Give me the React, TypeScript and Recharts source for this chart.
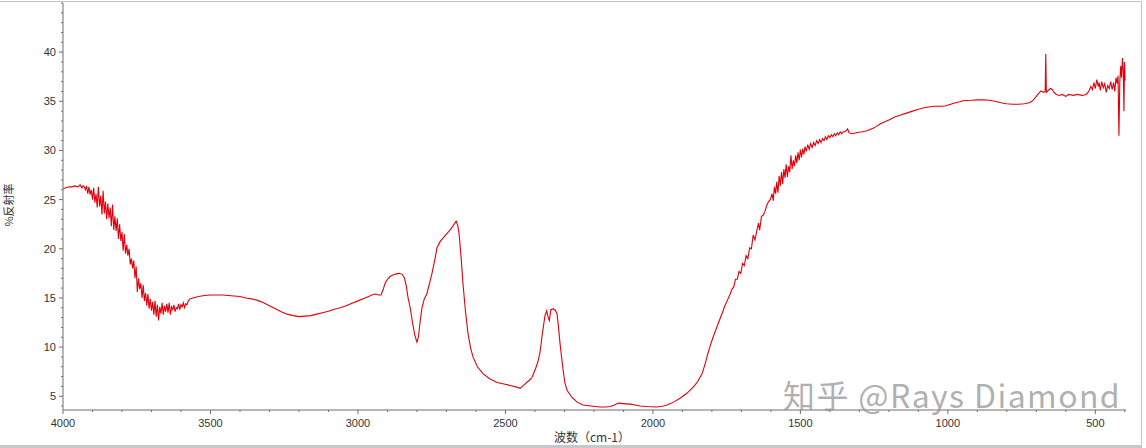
import { LineChart, Line, XAxis, YAxis } from "recharts"

// 波数 (cm-1), high to low
const waveNumbers = [
  4000, 3990, 3980, 3970, 3960, 3950, 3942, 3936, 3932, 3928,
  3924, 3920, 3916, 3912, 3908, 3904, 3900, 3896, 3892, 3888,
  3884, 3880, 3876, 3872, 3868, 3864, 3860, 3856, 3852, 3848,
  3844, 3840, 3836, 3832, 3828, 3824, 3820, 3816, 3812, 3808,
  3804, 3800, 3796, 3792, 3788, 3784, 3780, 3776, 3772, 3768,
  3764, 3760, 3756, 3752, 3748, 3744, 3740, 3736, 3732, 3728,
  3724, 3720, 3716, 3712, 3708, 3704, 3700, 3696, 3692, 3688,
  3684, 3680, 3676, 3672, 3668, 3664, 3660, 3656, 3652, 3648,
  3644, 3640, 3636, 3632, 3628, 3624, 3620, 3616, 3612, 3608,
  3604, 3600, 3596, 3592, 3588, 3584, 3580, 3575, 3570, 3560,
  3540, 3520, 3500, 3480, 3460, 3440, 3420, 3400, 3380, 3360,
  3340, 3320, 3300, 3280, 3260, 3240, 3220, 3200, 3180, 3160,
  3140, 3120, 3100, 3080, 3060, 3040, 3020, 3000, 2980, 2960,
  2950, 2940, 2930, 2922, 2915, 2908, 2900, 2890, 2880, 2870,
  2860, 2850, 2842, 2836, 2830, 2823, 2815, 2808, 2800, 2795,
  2790, 2783, 2775, 2766, 2758, 2749, 2740, 2732, 2722, 2711,
  2700, 2688, 2678, 2667, 2662, 2657, 2650, 2644, 2636, 2627,
  2618, 2610, 2595, 2576, 2555, 2528, 2505, 2484, 2465, 2450,
  2435, 2420, 2410, 2398, 2390, 2383, 2375, 2366, 2360, 2355,
  2351, 2346, 2338, 2330, 2325, 2320, 2315, 2305, 2298, 2291,
  2275, 2257, 2237, 2210, 2179, 2160, 2145, 2130, 2118, 2100,
  2077, 2060, 2043, 2020, 1986, 1965, 1952, 1930, 1908, 1885,
  1864, 1848, 1833, 1822, 1813, 1805, 1796, 1780, 1762, 1756,
  1750, 1744, 1738, 1732, 1726, 1720, 1714, 1708, 1702, 1696,
  1690, 1684, 1678, 1672, 1666, 1660, 1654, 1648, 1642, 1638,
  1632, 1626, 1620, 1614, 1608, 1602, 1596, 1592, 1588, 1584,
  1580, 1576, 1572, 1568, 1564, 1560, 1556, 1552, 1548, 1544,
  1540, 1536, 1532, 1528, 1524, 1520, 1516, 1512, 1508, 1504,
  1500, 1496, 1492, 1488, 1484, 1480, 1475, 1470, 1465, 1460,
  1455, 1450, 1445, 1440, 1435, 1430, 1425, 1420, 1415, 1410,
  1405, 1400, 1395, 1390, 1385, 1380, 1375, 1370, 1365, 1360,
  1355, 1350, 1345, 1340, 1335, 1325, 1310, 1290, 1274, 1250,
  1230, 1200, 1180, 1160, 1140, 1120, 1100, 1080, 1060, 1043,
  1020, 1006, 980, 960, 948, 920, 900, 880, 860, 840,
  820, 802, 780, 760, 740, 724, 715, 707, 695, 684,
  675, 670, 668, 666, 660, 652, 646, 640, 632, 622,
  612, 600, 590, 575, 560, 545, 531, 525, 521, 515,
  510, 505, 500, 495, 490, 487, 483, 478, 473, 468,
  463, 458, 453, 448, 443, 438, 434, 430, 426, 423,
  420, 417, 414, 411, 408, 405, 403, 401, 399,
]

// %反射率 at each wave number above
const reflectance = [
  26.1, 26.2, 26.3, 26.3, 26.4, 26.3, 26.5, 26.2, 26.4, 26.3,
  26.0, 26.4, 25.6, 26.3, 25.5, 26.0, 25.0, 26.2, 24.7, 25.6,
  24.2, 26.3, 24.3, 25.4, 23.5, 25.9, 23.6, 24.8, 23.0, 24.6,
  23.1, 24.2, 22.3, 24.5, 21.9, 23.3, 21.8, 23.1, 21.0, 22.5,
  20.8, 21.7, 19.8, 21.5, 19.5, 20.4, 19.3, 20.0, 18.4, 19.0,
  18.0, 18.8, 17.0, 18.2, 15.6, 17.0, 15.9, 16.5, 15.0, 16.3,
  14.7, 15.5, 14.2, 15.4, 13.9, 14.9, 13.7, 14.6, 13.3, 14.7,
  13.1, 14.3, 12.7, 14.1, 13.4, 14.5, 13.3, 14.2, 13.6, 14.4,
  13.5, 14.5, 13.3, 14.1, 13.8, 14.3, 13.6, 14.0, 13.9, 14.4,
  13.8, 14.3, 14.1, 14.5, 14.0, 14.4, 14.3, 14.7, 14.9, 15.0,
  15.15, 15.25, 15.3, 15.3, 15.3, 15.25, 15.2, 15.15, 15.0, 14.9,
  14.75, 14.5, 14.2, 13.9, 13.6, 13.35, 13.2, 13.1, 13.15, 13.2,
  13.35, 13.5, 13.65, 13.85, 14.0, 14.2, 14.45, 14.7, 14.95, 15.2,
  15.35, 15.4, 15.3, 15.3, 15.8, 16.5, 16.9, 17.2, 17.35, 17.45,
  17.5, 17.4, 17.0, 16.2, 15.0, 14.0, 12.5, 11.3, 10.5, 11.0,
  12.4, 14.0, 14.9, 15.45, 16.4, 17.5, 18.8, 20.1, 20.7, 21.1,
  21.5, 21.9, 22.3, 22.8, 22.4, 21.5, 19.0, 16.5, 13.8, 11.4,
  9.9, 9.0, 8.0, 7.3, 6.8, 6.4, 6.25, 6.1, 5.95, 5.8,
  6.2, 6.6, 6.9, 7.8, 8.5, 9.4, 11.3, 13.2, 13.7, 13.0,
  12.7, 13.8, 13.9, 13.7, 13.4, 12.0, 10.4, 7.8, 6.3, 5.6,
  4.9, 4.4, 4.1, 4.0, 3.9, 3.9, 3.95, 4.1, 4.3, 4.25,
  4.2, 4.1, 4.0, 3.95, 3.9, 4.0, 4.1, 4.4, 4.8, 5.3,
  5.9, 6.5, 7.3, 8.4, 9.4, 10.2, 11.0, 12.3, 13.7, 14.2,
  14.6, 15.0, 15.4, 15.9, 16.1, 16.9, 16.9, 17.7, 17.5, 18.5,
  18.3, 19.3, 19.0, 20.1, 20.0, 21.4, 20.9, 21.8, 22.6, 21.9,
  23.3, 23.4, 23.8, 24.4, 24.8, 25.0, 25.6, 24.9, 26.3, 25.6,
  26.8, 25.7, 27.4, 26.4, 27.8, 26.6, 28.1, 27.2, 28.6, 27.3,
  28.4, 27.8, 29.5, 28.1, 29.0, 28.4, 29.5, 28.7, 29.8, 29.0,
  30.1, 29.3, 30.2, 29.6, 30.4, 29.9, 30.6, 30.1, 30.7, 30.3,
  30.8, 30.5, 31.0, 30.7, 31.1, 30.8, 31.2, 31.0, 31.4, 31.1,
  31.5, 31.3, 31.6, 31.4, 31.7, 31.5, 31.8, 31.6, 31.9, 31.7,
  31.9, 31.9, 32.0, 32.2, 31.8, 31.7, 31.8, 31.9, 32.0, 32.3,
  32.7, 33.1, 33.4, 33.6, 33.8, 34.0, 34.2, 34.35, 34.45, 34.5,
  34.5, 34.55, 34.8, 34.95, 35.05, 35.1, 35.15, 35.15, 35.1, 35.0,
  34.85, 34.75, 34.7, 34.7, 34.75, 34.85, 35.0, 35.25, 35.7, 36.05,
  35.9, 36.0, 39.8, 35.9, 36.1, 36.3, 36.2, 35.9, 35.7, 35.6,
  35.7, 35.5, 35.7, 35.6, 35.7, 35.6, 35.7, 35.9, 36.1, 36.5,
  36.2, 36.9, 36.3, 37.2, 36.5, 36.9, 36.1, 37.0, 36.4, 36.8,
  35.9, 36.6, 36.3, 37.0, 36.2, 36.9, 36.0, 37.4, 36.8, 37.6,
  31.5, 37.0, 38.6, 37.4, 39.4, 38.0, 34.0, 39.0, 37.1,
]

const xMajorTicks = [4000, 3500, 3000, 2500, 2000, 1500, 1000, 500]
const yMajorTicks = [5, 10, 15, 20, 25, 30, 35, 40]
// minor ticks every 100 cm-1 and every 1 %
const xTicks = Array.from({ length: 37 }, (_, i) => 400 + i * 100)
const yTicks = Array.from({ length: 42 }, (_, i) => 4 + i)

const data = waveNumbers.map((wn, i) => ({ wn, r: reflectance[i] }))

const axisColor = "#6e6e6e"
const labelFont = "'Liberation Sans', Arial, sans-serif"
const cjkFont = "'Noto Sans CJK SC', sans-serif"

const XTick = ({ x, y, payload }: any) => {
  const major = xMajorTicks.includes(payload.value)
  return (
    <g>
      <line x1={x} x2={x} y1={y} y2={y + (major ? 4 : 2)} stroke={axisColor} />
      {major && (
        <text x={x} y={y + 17} textAnchor="middle" fontSize={11} fill="#333" fontFamily={labelFont}>
          {payload.value}
        </text>
      )}
    </g>
  )
}

const YTick = ({ x, y, payload }: any) => {
  const major = yMajorTicks.includes(payload.value)
  return (
    <g>
      <line x1={x - (major ? 4 : 2)} x2={x} y1={y} y2={y} stroke={axisColor} />
      {major && (
        <text x={x - 7} y={y + 4} textAnchor="end" fontSize={11} fill="#333" fontFamily={labelFont}>
          {payload.value}
        </text>
      )}
    </g>
  )
}

export default function App() {
  return (
    <div style={{ position: "absolute", left: 0, top: 0, width: 1146, height: 448, background: "#fff", overflow: "hidden" }}>
      <div
        style={{
          position: "absolute",
          left: -2,
          top: 1,
          width: 1143,
          height: 443,
          borderTop: "1px solid #c4c4c4",
          borderRight: "1px solid #c4c4c4",
          borderBottom: "3px solid #c8c8c8",
        }}
      />
      <LineChart width={1146} height={448} data={data} margin={{ top: 3, right: 20, left: 0, bottom: 0 }}>
        <XAxis
          dataKey="wn"
          type="number"
          reversed
          domain={[396, 4000]}
          allowDataOverflow
          ticks={xTicks}
          interval={0}
          height={38}
          tickSize={0}
          tickMargin={0}
          tickLine={false}
          tick={<XTick />}
          stroke={axisColor}
        />
        <YAxis
          type="number"
          domain={[3.6, 45]}
          allowDataOverflow
          ticks={yTicks}
          interval={0}
          width={63}
          tickSize={0}
          tickMargin={0}
          tickLine={false}
          tick={<YTick />}
          stroke={axisColor}
        />
        <Line
          dataKey="r"
          type="linear"
          stroke="#e0000c"
          strokeWidth={1.1}
          dot={false}
          isAnimationActive={false}
        />
      </LineChart>
      <div
        style={{
          position: "absolute",
          left: 8,
          top: 205,
          transform: "translate(-50%, -50%) rotate(-90deg)",
          fontFamily: cjkFont,
          fontSize: 11,
          color: "#333",
          whiteSpace: "nowrap",
        }}
      >
        %反射率
      </div>
      <div
        style={{
          position: "absolute",
          left: 592,
          top: 436,
          transform: "translate(-50%, -50%)",
          fontFamily: cjkFont,
          fontSize: 12,
          color: "#333",
          whiteSpace: "nowrap",
        }}
      >
        波数（cm-1）
      </div>
      <div
        style={{
          position: "absolute",
          left: 783,
          top: 374,
          fontFamily: cjkFont,
          fontSize: 32,
          lineHeight: "40px",
          letterSpacing: 1.4,
          color: "rgba(150,150,150,0.75)",
          whiteSpace: "nowrap",
        }}
      >
        知乎 @Rays Diamond
      </div>
    </div>
  )
}
